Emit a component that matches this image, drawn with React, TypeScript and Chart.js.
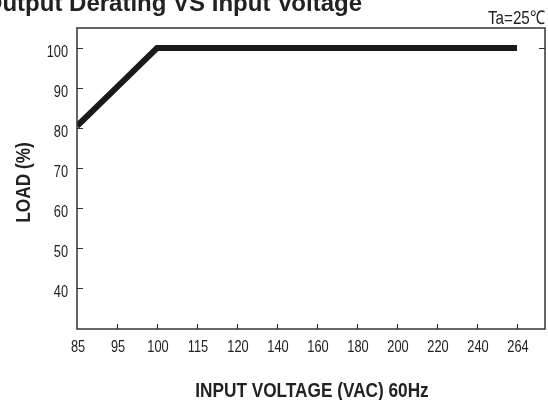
import React, { useEffect, useRef } from "react";
import { Chart, registerables } from "chart.js";

Chart.register(...registerables);

const voltages = ["85", "95", "100", "115", "120", "140", "160", "180", "200", "220", "240", "264"];
const loadPct = [80.5, 90.2, 100, 100, 100, 100, 100, 100, 100, 100, 100, 100];
const yTickValues = [40, 50, 60, 70, 80, 90, 100];
const titleText = "Output Derating VS Input Voltage";
const noteText = "Ta=25℃";
const xTitle = "INPUT VOLTAGE (VAC) 60Hz";
const yTitle = "LOAD (%)";

const SANS = "'Liberation Sans', Arial, sans-serif";
const INK = "#222";
const NARROW_X = 0.82;

function narrowText(ctx: any, text: string, x: number, y: number, align: string, font: string, sx: number, rot = 0) {
  ctx.save();
  ctx.translate(x, y);
  if (rot) ctx.rotate(rot);
  ctx.scale(sx, 1);
  ctx.font = font;
  ctx.textAlign = align;
  ctx.textBaseline = "alphabetic";
  ctx.fillStyle = INK;
  ctx.fillText(text, 0, 0);
  ctx.restore();
}

const decorPlugin = {
  id: "decor",
  afterDraw(chart: any) {
    const ctx = chart.ctx;
    const { left, right, top, bottom } = chart.chartArea;
    const xs = chart.scales.x;
    const ys = chart.scales.y;
    ctx.save();
    ctx.strokeStyle = "#333";
    ctx.lineWidth = 1.5;
    ctx.strokeRect(left, top, right - left, bottom - top);
    ctx.lineWidth = 1.2;
    ctx.beginPath();
    xs.ticks.forEach((t: any, i: number) => {
      if (i === 0) return;
      const px = Math.round(xs.getPixelForValue(t.value)) + 0.5;
      ctx.moveTo(px, bottom);
      ctx.lineTo(px, bottom - 5);
    });
    ys.ticks.forEach((t: any) => {
      const py = Math.round(ys.getPixelForValue(t.value)) + 0.5;
      ctx.moveTo(left, py);
      ctx.lineTo(left + 6, py);
    });
    const p100 = Math.round(ys.getPixelForValue(100)) + 0.5;
    ctx.moveTo(right, p100);
    ctx.lineTo(right - 6, p100);
    ctx.stroke();
    ctx.restore();

    // tick labels
    const tickFont = `16px ${SANS}`;
    xs.ticks.forEach((t: any) => {
      const px = xs.getPixelForValue(t.value);
      narrowText(ctx, voltages[t.value], px + 1, bottom + 22.5, "center", tickFont, 0.8);
    });
    ys.ticks.forEach((t: any) => {
      const py = ys.getPixelForValue(t.value);
      narrowText(ctx, String(t.value), left - 9, py + 8.5, "right", tickFont, 0.8);
    });

    // axis titles
    const axisFont = `bold 21px ${SANS}`;
    narrowText(ctx, xTitle, (left + right) / 2 + 1, 397, "center", axisFont, NARROW_X);
    narrowText(ctx, yTitle, 30, (top + bottom) / 2 + 4, "center", axisFont, NARROW_X, -Math.PI / 2);

    // chart title & note
    ctx.save();
    ctx.fillStyle = INK;
    ctx.font = `bold 24px ${SANS}`;
    ctx.textAlign = "right";
    ctx.textBaseline = "alphabetic";
    ctx.fillText(titleText, 362, 11);
    ctx.restore();
    narrowText(ctx, noteText, 545, 24, "right", `19px ${SANS}`, 0.8);
  },
};

export default function App() {
  const ref = useRef<HTMLCanvasElement | null>(null);
  useEffect(() => {
    if (!ref.current) return;
    const chart = new Chart(ref.current, {
      type: "line",
      data: {
        datasets: [
          {
            data: loadPct.map((v, i) => ({ x: i, y: v })),
            borderColor: "#1a1a1a",
            borderWidth: 6,
            pointRadius: 0,
            tension: 0,
            borderCapStyle: "butt",
            borderJoinStyle: "miter",
            fill: false,
          },
        ],
      },
      options: {
        responsive: false,
        animation: false,
        layout: { padding: { top: 28, right: 3, left: 0, bottom: 0 } },
        plugins: { legend: { display: false }, tooltip: { enabled: false }, title: { display: false } },
        scales: {
          x: {
            type: "linear",
            min: 0,
            max: 11.7,
            grid: { display: false, drawTicks: false },
            border: { display: false },
            afterBuildTicks: (s: any) => {
              s.ticks = voltages.map((_, i) => ({ value: i }));
            },
            afterFit: (s: any) => {
              s.height = 71;
            },
            ticks: { display: false, autoSkip: false },
            title: { display: false, text: xTitle },
          },
          y: {
            type: "linear",
            min: 29.75,
            max: 105,
            grid: { display: false, drawTicks: false },
            border: { display: false },
            afterBuildTicks: (s: any) => {
              s.ticks = yTickValues.map((v) => ({ value: v }));
            },
            afterFit: (s: any) => {
              s.width = 77;
            },
            ticks: { display: false, autoSkip: false },
            title: { display: false, text: yTitle },
          },
        },
      },
      plugins: [decorPlugin],
    } as any);
    return () => chart.destroy();
  }, []);
  return (
    <div style={{ position: "fixed", left: 0, top: 0, width: 548, height: 400, background: "#fff" }}>
      <canvas ref={ref} width={548} height={400} style={{ display: "block" }} />
    </div>
  );
}
